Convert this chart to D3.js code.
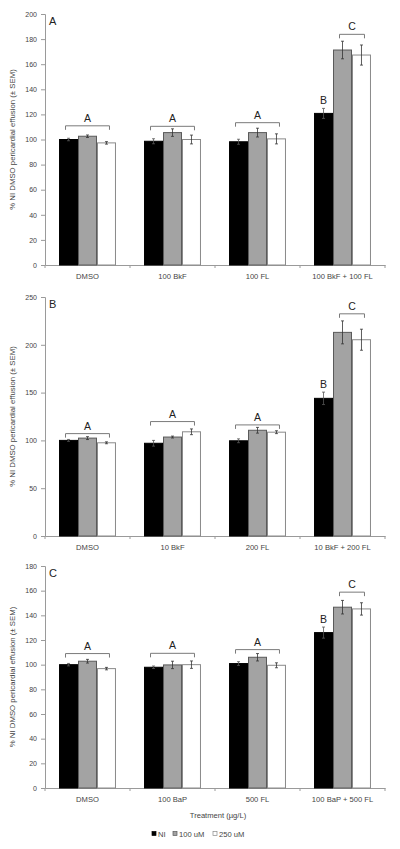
<!DOCTYPE html>
<html><head><meta charset="utf-8">
<script src="https://cdn.jsdelivr.net/npm/d3@7/dist/d3.min.js"></script>
<style>body{margin:0;background:#fff}svg{display:block;font-family:"Liberation Sans",Arial,sans-serif}</style>
</head><body>
<script>
// ---- data ----
const series = ["NI", "100 uM", "250 uM"];
const seriesFill = ["#000000", "#a3a3a3", "#ffffff"];
const seriesStroke = ["#000000", "#5a5a5a", "#8a8a8a"];

const catsA = ["DMSO", "100 BkF", "100 FL", "100 BkF + 100 FL"];
const niA   = [100, 98.6, 98.2, 120.8];
const u100A = [102.6, 105.5, 105.5, 171.3];
const u250A = [97.3, 100, 100.5, 167.3];
const eNiA   = [1, 2, 2, 4];
const e100A  = [1, 3, 3.5, 7];
const e250A  = [1, 3.5, 4, 8];
const ticksA = [0, 20, 40, 60, 80, 100, 120, 140, 160, 180, 200];
const bracketA = [110.9, 110.5, 113.4, 183.8];

const catsB = ["DMSO", "10 BkF", "200 FL", "10 BkF + 200 FL"];
const niB   = [100, 97, 99.6, 144];
const u100B = [102.4, 103.5, 110.6, 213];
const u250B = [97.5, 109, 108.6, 205.3];
const eNiB   = [1, 3, 2, 6.5];
const e100B  = [1.5, 1, 3, 12];
const e250B  = [1, 3, 1.5, 11];
const ticksB = [0, 50, 100, 150, 200, 250];
const bracketB = [107.1, 119.7, 116.2, 232.4];

const catsC = ["DMSO", "100 BaP", "500 FL", "100 BaP + 500 FL"];
const niC   = [100, 97.9, 100.9, 126];
const u100C = [102.8, 99.8, 106, 146.6];
const u250C = [96.8, 100, 99.5, 145.2];
const eNiC   = [1, 1, 1.5, 4.5];
const e100C  = [1.5, 3, 3, 5.5];
const e250C  = [1, 3, 2, 5];
const ticksC = [0, 20, 40, 60, 80, 100, 120, 140, 160, 180];
const bracketC = [109, 109.2, 112.2, 158.8];

const groupLetters = ["A", "A", "A", "C"];
const niLetters = [null, null, null, "B"];
const panelLetters = ["A", "B", "C"];
const yTitle = "% NI DMSO pericardial effusion (\u00b1 SEM)";
const xTitle = "Treatment (\u00b5g/L)";

// ---- drawing ----
const svg = d3.select("body").append("svg").attr("width", 400).attr("height", 849);

const panels = [
  {cats: catsA, vals: [niA, u100A, u250A], errs: [eNiA, e100A, e250A], ticks: ticksA, br: bracketA, top: 14, bottom: 265},
  {cats: catsB, vals: [niB, u100B, u250B], errs: [eNiB, e100B, e250B], ticks: ticksB, br: bracketB, top: 297, bottom: 536},
  {cats: catsC, vals: [niC, u100C, u250C], errs: [eNiC, e100C, e250C], ticks: ticksC, br: bracketC, top: 566, bottom: 788}
];
const left = 45, right = 385;
const txt = "#444";
const ff = "Liberation Sans, Arial, sans-serif";

panels.forEach((p, pi) => {
  const g = svg.append("g");
  const x = d3.scaleBand().domain(p.cats).range([left, right]).paddingInner(0).paddingOuter(0);
  const bw = x.bandwidth();
  const xs = d3.scaleBand().domain(series).range([bw * 0.165, bw * 0.835]).padding(0);
  const y = d3.scaleLinear().domain([0, d3.max(p.ticks)]).range([p.bottom, p.top]);

  // y axis
  const ya = g.append("g").attr("transform", `translate(${left},0)`)
    .call(d3.axisLeft(y).tickValues(p.ticks).tickSize(4).tickPadding(4));
  ya.select(".domain").attr("stroke", "#9a9a9a");
  ya.selectAll(".tick line").attr("stroke", "#9a9a9a");
  ya.selectAll("text").attr("font-size", 7).attr("fill", txt).attr("font-family", ff);

  // x axis
  const xa = g.append("g").attr("transform", `translate(0,${p.bottom})`)
    .call(d3.axisBottom(x).tickSize(0).tickPadding(9));
  xa.select(".domain").attr("stroke", "#9a9a9a");
  xa.selectAll("text").attr("font-size", 7.6).attr("fill", txt).attr("font-family", ff);
  const bounds = p.cats.map(c => x(c)).concat([right]);
  g.selectAll(".bt").data(bounds).enter().append("line")
    .attr("x1", d => d).attr("x2", d => d).attr("y1", p.bottom).attr("y2", p.bottom + 3)
    .attr("stroke", "#9a9a9a");

  // bars
  series.forEach((s, si) => {
    g.selectAll(".bar" + si).data(p.cats).enter().append("rect")
      .attr("x", c => x(c) + xs(s) + 0.5)
      .attr("y", (c, i) => y(p.vals[si][i]))
      .attr("width", xs.bandwidth() - 1)
      .attr("height", (c, i) => p.bottom - y(p.vals[si][i]))
      .attr("fill", seriesFill[si]).attr("stroke", seriesStroke[si]).attr("stroke-width", 1);
    // error bars
    p.cats.forEach((c, i) => {
      const cx = x(c) + xs(s) + xs.bandwidth() / 2;
      const v = p.vals[si][i], e = p.errs[si][i];
      const ec = si === 0 ? "#555" : "#333";
      g.append("line").attr("x1", cx).attr("x2", cx).attr("y1", y(v + e)).attr("y2", y(v - e)).attr("stroke", ec).attr("stroke-width", 0.8);
      g.append("line").attr("x1", cx - 1.5).attr("x2", cx + 1.5).attr("y1", y(v + e)).attr("y2", y(v + e)).attr("stroke", ec).attr("stroke-width", 0.8);
      g.append("line").attr("x1", cx - 1.5).attr("x2", cx + 1.5).attr("y1", y(v - e)).attr("y2", y(v - e)).attr("stroke", ec).attr("stroke-width", 0.8);
    });
  });

  // brackets and letters
  p.cats.forEach((c, i) => {
    const first = niLetters[i] ? 1 : 0;
    const x1 = x(c) + xs(series[first]) + xs.bandwidth() / 2 - 3;
    const x2 = x(c) + xs(series[2]) + xs.bandwidth() / 2 + 3;
    const by = y(p.br[i]);
    g.append("path").attr("d", `M${x1},${by + 4}V${by}H${x2}V${by + 4}`)
      .attr("fill", "none").attr("stroke", "#7a7a7a").attr("stroke-width", 1);
    g.append("text").attr("x", (x1 + x2) / 2).attr("y", by - 4).attr("text-anchor", "middle")
      .attr("font-size", 10.5).attr("fill", "#222").text(groupLetters[i]);
    if (niLetters[i]) {
      const cx = x(c) + xs(series[0]) + xs.bandwidth() / 2;
      const ty = y(p.vals[0][i] + p.errs[0][i]);
      g.append("text").attr("x", cx).attr("y", ty - 4).attr("text-anchor", "middle")
        .attr("font-size", 10.5).attr("fill", "#222").text(niLetters[i]);
    }
  });

  // panel letter
  g.append("text").attr("x", 49).attr("y", p.top + 11).attr("font-size", 11).attr("fill", "#222").text(panelLetters[pi]);

  // y title
  g.append("text").attr("transform", `translate(15,${(p.top + p.bottom) / 2}) rotate(-90)`)
    .attr("text-anchor", "middle").attr("font-size", 7.8).attr("fill", txt).text(yTitle);
});

// x title
svg.append("text").attr("x", 218).attr("y", 818).attr("text-anchor", "middle")
  .attr("font-size", 7.6).attr("fill", txt).text(xTitle);

// legend
const legX = [152, 173, 213];
const lg = svg.append("g");
series.forEach((s, si) => {
  lg.append("rect").attr("x", legX[si]).attr("y", 831.5).attr("width", 4).attr("height", 4)
    .attr("fill", seriesFill[si]).attr("stroke", seriesStroke[si]).attr("stroke-width", 0.7);
  lg.append("text").attr("x", legX[si] + 6).attr("y", 836.5).attr("font-size", 7.6).attr("fill", txt).text(s);
});
</script>
</body></html>
